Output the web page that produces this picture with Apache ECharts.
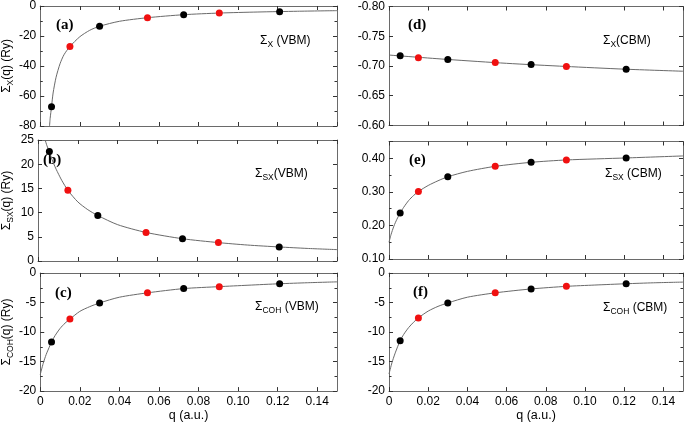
<!DOCTYPE html>
<html><head><meta charset="utf-8">
<script src="https://cdn.jsdelivr.net/npm/echarts@6/dist/echarts.min.js"></script>
<style>html,body{margin:0;padding:0;background:#fff}#c{width:685px;height:423px}</style>
</head><body><div id="c"></div>
<script>
// ---- data ----
const qPoints    = [0.0057, 0.0150, 0.0300, 0.0542, 0.0725, 0.0905, 0.1210];
const pointIsRed = [false, true, false, true, false, true, false];

const sigmaX_VBM   = [-67.2, -27.0, -13.5, -7.8, -5.8, -4.7, -3.8];
const sigmaSX_VBM  = [22.6, 14.6, 9.4, 5.9, 4.6, 3.8, 2.9];
const sigmaCOH_VBM = [-11.7, -7.8, -5.07, -3.36, -2.64, -2.31, -1.82];
const sigmaX_CBM   = [-0.7173, -0.7139, -0.7110, -0.7059, -0.7025, -0.6992, -0.6946];
const sigmaSX_CBM  = [0.237, 0.301, 0.345, 0.376, 0.388, 0.395, 0.401];
const sigmaCOH_CBM = [-11.46, -7.6, -5.07, -3.36, -2.70, -2.26, -1.82];

// fitted curves
const fitQ_a = [0.0047, 0.0050, 0.0057, 0.0065, 0.0080, 0.0100, 0.0120, 0.0150, 0.0200, 0.0250, 0.0300, 0.0400, 0.0542, 0.0725, 0.0905, 0.1100, 0.1300, 0.1500];
const fitV_a = [-80, -75, -67.2, -58, -47.5, -38.5, -32.5, -27.0, -20.5, -16.2, -13.5, -10.2, -7.8, -5.8, -4.7, -4.0, -3.5, -3.1];
const fitQ_b = [0.0036, 0.0045, 0.0057, 0.0070, 0.0085, 0.0100, 0.0120, 0.0150, 0.0200, 0.0250, 0.0300, 0.0400, 0.0542, 0.0725, 0.0905, 0.1050, 0.1210, 0.1350, 0.1500];
const fitV_b = [25, 23.8, 22.6, 21.0, 19.5, 18.2, 16.6, 14.6, 12.2, 10.6, 9.4, 7.5, 5.9, 4.6, 3.8, 3.3, 2.9, 2.6, 2.35];
const fitQ_c = [0, 0.0015, 0.0030, 0.0045, 0.0057, 0.0075, 0.0100, 0.0125, 0.0150, 0.0200, 0.0250, 0.0300, 0.0400, 0.0542, 0.0725, 0.0905, 0.1050, 0.1210, 0.1350, 0.1500];
const fitV_c = [-17.2, -15.3, -13.8, -12.6, -11.7, -10.6, -9.4, -8.5, -7.8, -6.5, -5.7, -5.07, -4.1, -3.36, -2.64, -2.31, -2.07, -1.82, -1.65, -1.5];
const fitQ_d = [0, 0.0300, 0.0600, 0.0900, 0.1200, 0.1500];
const fitV_d = [-0.7184, -0.7110, -0.7045, -0.6993, -0.6947, -0.6912];
const fitQ_e = [0, 0.0010, 0.0025, 0.0040, 0.0057, 0.0075, 0.0100, 0.0125, 0.0150, 0.0200, 0.0250, 0.0300, 0.0400, 0.0542, 0.0725, 0.0905, 0.1210, 0.1500];
const fitV_e = [0.150, 0.172, 0.198, 0.218, 0.237, 0.254, 0.274, 0.289, 0.301, 0.319, 0.333, 0.345, 0.361, 0.376, 0.388, 0.395, 0.401, 0.407];
const fitQ_f = [0, 0.0015, 0.0030, 0.0045, 0.0057, 0.0075, 0.0100, 0.0125, 0.0150, 0.0200, 0.0250, 0.0300, 0.0400, 0.0542, 0.0725, 0.0905, 0.1050, 0.1210, 0.1350, 0.1500];
const fitV_f = [-17.1, -15.2, -13.7, -12.4, -11.46, -10.4, -9.25, -8.35, -7.6, -6.45, -5.65, -5.07, -4.1, -3.36, -2.70, -2.26, -2.04, -1.82, -1.66, -1.54];

const xTickLabels = ['0', '0.02', '0.04', '0.06', '0.08', '0.10', '0.12', '0.14'];

// ---- panels ----
const FONT = '"Liberation Sans", Arial, Helvetica, sans-serif';
const panels = [
  {grid:{left:36, top:6,   width:301, height:120}, y:{min:-80, max:0, interval:20, minor:true, dec:0},
   pts:sigmaX_VBM, fq:fitQ_a, fv:fitV_a, name:['Σ','X','(q) (Ry)'], xlab:false},
  {grid:{left:36, top:140, width:301, height:121}, y:{min:0, max:25, interval:5, minor:false, dec:0},
   pts:sigmaSX_VBM, fq:fitQ_b, fv:fitV_b, name:['Σ','SX','(q) (Ry)'], xlab:false},
  {grid:{left:36, top:273, width:301, height:121}, y:{min:-20, max:0, interval:5, minor:true, dec:0},
   pts:sigmaCOH_VBM, fq:fitQ_c, fv:fitV_c, name:['Σ','COH','(q) (Ry)'], xlab:true},
  {grid:{left:389, top:6.5, width:294, height:119}, y:{min:-0.8, max:-0.6, interval:0.05, minor:false, dec:2, inverse:true},
   pts:sigmaX_CBM, fq:fitQ_d, fv:fitV_d, name:null, xlab:false},
  {grid:{left:389, top:141.5, width:294, height:117.5}, y:{min:0.1, max:0.45, interval:0.1, minor:true, dec:2},
   pts:sigmaSX_CBM, fq:fitQ_e, fv:fitV_e, name:null, xlab:false},
  {grid:{left:389, top:273, width:294, height:121}, y:{min:-20, max:0, interval:5, minor:true, dec:0},
   pts:sigmaCOH_CBM, fq:fitQ_f, fv:fitV_f, name:null, xlab:true}
];

const lineCol = '#6a6a6a', tickCol = '#333';
const grids = [], xAxes = [], yAxes = [], series = [];
const richName = {
  m:{fontSize:12, fontFamily:FONT, color:'#000', lineHeight:16},
  s:{fontSize:8.5, fontFamily:FONT, color:'#000', lineHeight:8, verticalAlign:'bottom'}
};

panels.forEach((p, gi) => {
  grids.push(Object.assign({containLabel:false}, p.grid));
  const base = {
    gridIndex: gi, type:'value',
    axisLine:{show:true, onZero:false, lineStyle:{color:lineCol, width:1}},
    axisTick:{show:true, inside:true, length:4, lineStyle:{color:tickCol, width:1}},
    splitLine:{show:false}
  };
  const xb = Object.assign({}, base, {
    position:'bottom', min:0, max:0.15, interval:0.02,
    axisLabel:{show:p.xlab, margin:5, fontSize:12, fontFamily:FONT, color:'#000', showMaxLabel:false,
      formatter:v => { const i = Math.round(v/0.02); return Math.abs(v - i*0.02) < 1e-9 ? xTickLabels[i] : ''; }}
  });
  if (p.xlab) {
    xb.name = 'q (a.u.)'; xb.nameLocation = 'middle'; xb.nameGap = 17;
    xb.nameTextStyle = {fontSize:12.5, fontFamily:FONT, color:'#000'};
  }
  xAxes.push(xb);
  xAxes.push(Object.assign({}, base, {position:'top', min:0, max:0.15, interval:0.02, axisLabel:{show:false}}));
  const yc = p.y;
  const minorTick = {show:yc.minor, splitNumber:2, length:2.5, lineStyle:{color:tickCol, width:1}};
  const yl = Object.assign({}, base, {
    position:'left', min:yc.min, max:yc.max, interval:yc.interval, inverse:!!yc.inverse, minorTick,
    axisLabel:{show:true, margin:4, fontSize:12, fontFamily:FONT, color:'#000', showMaxLabel: !(gi===4),
      formatter:v => yc.dec ? v.toFixed(yc.dec) : String(Math.round(v))}
  });
  if (p.name) {
    yl.name = '{m|' + p.name[0] + '}{s|' + p.name[1] + '}{m|' + p.name[2] + '}';
    yl.nameLocation = 'middle'; yl.nameGap = 23; yl.nameRotate = 90;
    yl.nameTextStyle = {rich: richName};
  }
  yAxes.push(yl);
  yAxes.push(Object.assign({}, base, {position:'right', min:yc.min, max:yc.max, interval:yc.interval,
    inverse:!!yc.inverse, minorTick, axisLabel:{show:false}}));

  series.push({type:'line', xAxisIndex:gi*2, yAxisIndex:gi*2, smooth:0.25,
    showSymbol:false, symbol:'none', silent:true, z:2,
    lineStyle:{color:lineCol, width:1}, data:p.fq.map((q,i)=>[q,p.fv[i]])});
  series.push({type:'scatter', xAxisIndex:gi*2, yAxisIndex:gi*2, symbolSize:7, z:3,
    itemStyle:{color:'#000', opacity:1}, data:qPoints.map((q,i)=>[q,p.pts[i]]).filter((d,i)=>!pointIsRed[i])});
  series.push({type:'scatter', xAxisIndex:gi*2, yAxisIndex:gi*2, symbolSize:7, z:3,
    itemStyle:{color:'#f01010', opacity:1}, data:qPoints.map((q,i)=>[q,p.pts[i]]).filter((d,i)=>pointIsRed[i])});
});

// ---- text annotations ----
const panelLetters = ['(a)','(b)','(c)','(d)','(e)','(f)'];
const letterPos = [[56,25],[43,160],[55,293],[408,25],[409,160],[413,292]];
const annot = [
  ['X',' (VBM)'], ['SX','(VBM)'], ['COH',' (VBM)'],
  ['X','(CBM)'], ['SX',' (CBM)'], ['COH',' (CBM)']
];
const annotPos = [[260,41],[255,174],[255,307],[603,41],[605,174],[603,308]];
const graphic = [];
panelLetters.forEach((t,i)=>{
  graphic.push({type:'text', x:letterPos[i][0], y:letterPos[i][1], silent:true,
    style:{text:t, font:'bold 15px "Liberation Serif", "Times New Roman", serif', fill:'#000', align:'left', verticalAlign:'middle'}});
});
annot.forEach((a,i)=>{
  graphic.push({type:'text', x:annotPos[i][0], y:annotPos[i][1], silent:true,
    style:{text:'{m|Σ}{s|' + a[0] + '}{m|' + a[1] + '}', rich:richName, align:'left', verticalAlign:'middle'}});
});

const chart = echarts.init(document.getElementById('c'), null, {renderer:'canvas'});
chart.setOption({
  animation:false, backgroundColor:'#fff',
  grid:grids, xAxis:xAxes, yAxis:yAxes, series, graphic
});
</script></body></html>
